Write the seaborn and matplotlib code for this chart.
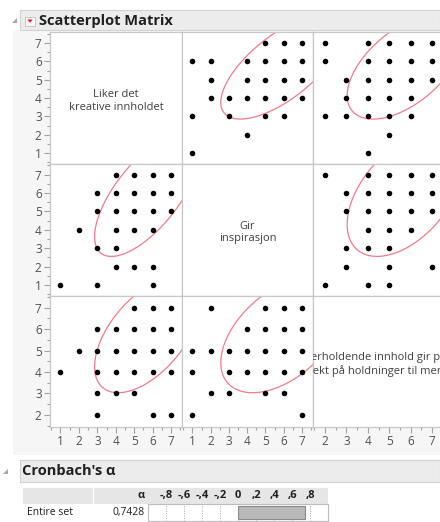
import numpy as np
import matplotlib
matplotlib.use("Agg")
import matplotlib.pyplot as plt
from matplotlib.patches import Rectangle, Polygon
from matplotlib.ticker import MultipleLocator
import seaborn as sns

sns.set_style("white")
plt.rcParams['font.family'] = ['Open Sans', 'Noto Sans', 'DejaVu Sans']

W, H = 440, 522

var_labels = ["Liker det\nkreative innholdet",
              "Gir\ninspirasjon",
              "Underholdende innhold gir positiv\neffekt på holdninger til merket"]

# unique response pairs (first var, second var)
v1_v2_a = [4, 5, 6, 7, 3, 4, 5, 6, 7, 3, 4, 5, 6, 7, 2, 4, 5, 6, 3, 4, 4, 5, 6, 1, 3, 6]
v1_v2_b = [7, 7, 7, 7, 6, 6, 6, 6, 6, 5, 5, 5, 5, 5, 4, 4, 4, 4, 3, 3, 2, 2, 2, 1, 1, 1]

v1_v3_a = [5, 6, 7, 3, 4, 5, 6, 7, 2, 3, 4, 5, 6, 7, 1, 3, 4, 5, 6, 7, 3, 4, 5, 3, 6, 7]
v1_v3_b = [7, 7, 7, 6, 6, 6, 6, 6, 5, 5, 5, 5, 5, 5, 4, 4, 4, 4, 4, 4, 3, 3, 3, 2, 2, 2]

v2_v3_a = [2, 5, 6, 7, 4, 5, 6, 7, 1, 2, 3, 4, 5, 6, 7, 1, 3, 4, 5, 6, 7, 2, 3, 5, 6, 1, 7]
v2_v3_b = [7, 7, 7, 7, 6, 6, 6, 6, 5, 5, 5, 5, 5, 5, 5, 4, 4, 4, 4, 4, 4, 3, 3, 3, 3, 2, 2]

pairs = {(0, 1): (v1_v2_a, v1_v2_b),
         (0, 2): (v1_v3_a, v1_v3_b),
         (1, 2): (v2_v3_a, v2_v3_b)}

# density ellipse estimates (95%)
means = [5.70, 5.90, 5.73]
sds = [1.164, 1.368, 1.103]
corrs = {(0, 1): 0.68, (0, 2): 0.55, (1, 2): 0.48}

axis_ticks = [[1, 2, 3, 4, 5, 6, 7], [1, 2, 3, 4, 5, 6, 7], [2, 3, 4, 5, 6, 7]]
axis_lims = [(0.43, 7.6), (0.43, 7.6), (1.43, 7.57)]

alpha_rows = ["Entire set"]
alpha_vals = [0.7428]
alpha_ticks = [-0.8, -0.6, -0.4, -0.2, 0, 0.2, 0.4, 0.6, 0.8]
alpha_ticklabels = ["-,8", "-,6", "-,4", "-,2", "0", ",2", ",4", ",6", ",8"]

col_edges = [(50, 182), (182, 313), (313, 444)]
row_edges = [(32, 163.5), (163.5, 295.5), (295.5, 427)]

GRID = '#c8c8c8'
TXT = '#404040'


def px_axes(fig, x0, y0, x1, y1, **kw):
    return fig.add_axes([x0 / W, 1 - y1 / H, (x1 - x0) / W, (y1 - y0) / H], **kw)


fig = plt.figure(figsize=(W / 100, H / 100), dpi=100)
fig.patch.set_facecolor('white')

# background / report decorations in pixel coords
bg = px_axes(fig, 0, 0, W, H, zorder=0)
bg.set_xlim(0, W)
bg.set_ylim(H, 0)
bg.axis('off')

bg.add_patch(Rectangle((13, 30), W - 13, 425, facecolor='#f6f6f6', edgecolor='none'))
# Scatterplot Matrix header
bg.add_patch(Rectangle((20, 10), W - 20, 20, facecolor='#ececec', edgecolor='#d2d2d2', lw=0.8))
bg.add_patch(Polygon([(12, 23), (17, 23), (17, 18)], closed=True, facecolor='#a8a8a8', edgecolor='none'))
bg.add_patch(Rectangle((25, 16.5), 10, 9, facecolor='#f8f8f8', edgecolor='#c0c0c0', lw=0.6))
bg.add_patch(Polygon([(27.3, 19.5), (32.7, 19.5), (30, 22.7)], closed=True, facecolor='#e8202a', edgecolor='none'))
bg.text(39, 20.5, "Scatterplot Matrix", fontsize=10.5, fontweight='bold', color='#202020', va='center', ha='left')

# Cronbach header
bg.add_patch(Rectangle((20, 460), W - 20, 22, facecolor='#ececec', edgecolor='#d2d2d2', lw=0.8))
bg.add_patch(Polygon([(3, 474), (8, 474), (8, 469)], closed=True, facecolor='#a8a8a8', edgecolor='none'))
bg.text(22, 471, "Cronbach's α", fontsize=10.5, fontweight='bold', color='#202020', va='center', ha='left')

# table header row
bg.add_patch(Rectangle((23, 488), 305, 15.5, facecolor='#e6e6e6', edgecolor='none'))
bg.plot([93, 93], [488, 503.5], color='white', lw=1)
bg.text(145, 496, "α", fontsize=8, fontweight='bold', color='#202020', va='center', ha='right')
bg.text(27, 512.5, alpha_rows[0], fontsize=7.5, color='#202020', va='center', ha='left')
bg.text(145, 512.5, f"{alpha_vals[0]:.4f}".replace('.', ','), fontsize=7.5, color='#202020',
        va='center', ha='right')

# scatterplot matrix panels
for i in range(3):
    for j in range(3):
        x0, x1 = col_edges[j]
        y0, y1 = row_edges[i]
        ax = px_axes(fig, x0, y0, x1, y1, zorder=2)
        ax.set_facecolor('white')
        ax.set_xlim(*axis_lims[j])
        ax.set_ylim(*axis_lims[i])
        for s in ax.spines.values():
            s.set_color(GRID)
            s.set_linewidth(0.9)

        if i == j:
            ax.text(0.5, 0.475, var_labels[i], transform=ax.transAxes, ha='center', va='center',
                    fontsize=8, color=TXT, linespacing=1.15, clip_on=True)
        else:
            if j < i:
                xs, ys = pairs[(j, i)]
            else:
                ys, xs = pairs[(i, j)]
            sns.scatterplot(x=xs, y=ys, ax=ax, color='black', s=16, linewidth=0, zorder=3)
            key = (min(i, j), max(i, j))
            r = corrs[key]
            c = np.sqrt(5.991)
            t = np.linspace(0, 2 * np.pi, 300)
            ex = means[j] + c * sds[j] * np.cos(t)
            ey = means[i] + c * sds[i] * (r * np.cos(t) + np.sqrt(1 - r ** 2) * np.sin(t))
            ax.plot(ex, ey, color='#f07c88', lw=0.9, zorder=2)

        ax.set_xlabel('')
        ax.set_ylabel('')
        ax.set_xticks(axis_ticks[j])
        ax.set_yticks(axis_ticks[i])
        ax.xaxis.set_minor_locator(MultipleLocator(0.5))
        ax.yaxis.set_minor_locator(MultipleLocator(0.5))
        ax.tick_params(which='both', direction='out', color='#a0a0a0', labelcolor='#505050',
                       labelsize=8.5, width=0.8)
        ax.tick_params(which='major', length=4, pad=2)
        ax.tick_params(which='minor', length=2)
        ax.tick_params(axis='x', which='both', bottom=(i == 2), labelbottom=(i == 2), top=False)
        ax.tick_params(axis='y', which='both', left=(j == 0), labelleft=(j == 0), right=False)

# Cronbach alpha bar cell
cell = px_axes(fig, 148, 504, 328, 521, zorder=2)
sns.barplot(x=alpha_vals, y=alpha_rows, orient='h', ax=cell, color='#b9b9b9',
            edgecolor='#8a8a8a', linewidth=0.8, width=0.8, saturation=1)
cell.set_xlim(-1, 1)
cell.set_ylim(0.5, -0.5)
cell.set_xlabel('')
cell.set_ylabel('')
cell.set_yticks([])
for v in alpha_ticks:
    cell.axvline(v, color='#a8a8a8', lw=0.7, ls=(0, (1, 1.5)), zorder=0)
cell.set_xticks(alpha_ticks)
cell.set_xticklabels(alpha_ticklabels, fontweight='bold', fontsize=8, color='#202020')
cell.xaxis.tick_top()
cell.tick_params(axis='x', length=0, pad=2)
for s in cell.spines.values():
    s.set_color('#bdbdbd')
    s.set_linewidth(0.8)

fig.savefig("out.png", dpi=100)
